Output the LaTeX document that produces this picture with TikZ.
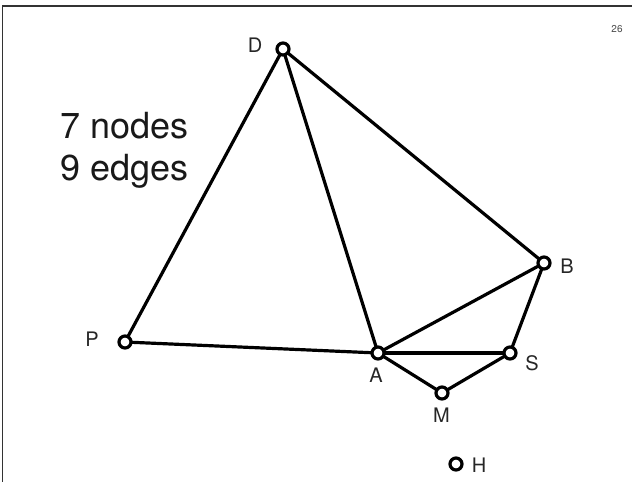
\documentclass[tikz,border=0pt]{standalone}
\usepackage{fontspec}
\setmainfont{TeX Gyre Heros}
\begin{document}
\begin{tikzpicture}[x=1pt,y=-1pt,
  vtx/.style={circle,draw=black,fill=white,line width=3.2pt,minimum size=12pt,inner sep=0pt},
  edge/.style={line width=3.2pt,black},
  lbl/.style={font=\fontsize{20}{22}\selectfont,inner sep=0pt,text=black!85},
  big/.style={font=\fontsize{36}{40}\selectfont,inner sep=0pt,anchor=base west,text=black!90},
  frame/.style={line width=1.5pt,black!80}]
\useasboundingbox (0,0) rectangle (632,482);
\coordinate (f1) at (2.5,482);
\coordinate (f2) at (2.5,6);
\coordinate (f3) at (632,6);
\draw[frame] (f1) -- (f2) -- (f3);
\node[font=\fontsize{10}{11}\selectfont,text=black!70,inner sep=0pt] (num) at (617,29) {26};
\node[big] (t1) at (60,138) {7 nodes};
\node[big] (t2) at (60,180) {9 edges};
\coordinate (D) at (283,49);
\coordinate (P) at (125,342);
\coordinate (A) at (378,353);
\coordinate (S) at (510,353);
\coordinate (B) at (544,263);
\coordinate (M) at (442,393);
\draw[edge] (D) -- (P);
\draw[edge] (D) -- (A);
\draw[edge] (D) -- (B);
\draw[edge] (P) -- (A);
\draw[edge] (A) -- (B);
\draw[edge] (A) -- (S);
\draw[edge] (A) -- (M);
\draw[edge] (M) -- (S);
\draw[edge] (S) -- (B);
\node[vtx] (nD) at (D) {};
\node[vtx] (nP) at (P) {};
\node[vtx] (nA) at (A) {};
\node[vtx] (nS) at (S) {};
\node[vtx] (nB) at (B) {};
\node[vtx] (nM) at (M) {};
\node[vtx] (nH) at (456,464) {};
\node[lbl] (lD) at (255,45) {D};
\node[lbl] (lP) at (92,339) {P};
\node[lbl] (lA) at (376,375) {A};
\node[lbl] (lM) at (441.5,415) {M};
\node[lbl] (lS) at (532,363) {S};
\node[lbl] (lB) at (567,266) {B};
\node[lbl] (lH) at (479,465) {H};
\end{tikzpicture}
\end{document}
